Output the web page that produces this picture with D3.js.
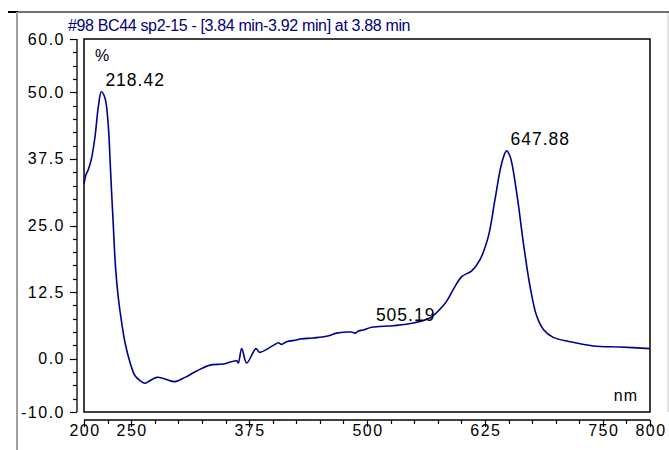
<!DOCTYPE html>
<html><head><meta charset="utf-8">
<script src="https://cdn.jsdelivr.net/npm/d3@7"></script>
<style>
body{margin:0;background:#fff;}
svg text{font-family:Arial,"Liberation Sans",sans-serif;}
</style></head>
<body><svg id="c" width="669" height="450"></svg>
<script>
const title = "#98 BC44 sp2-15 - [3.84 min-3.92 min] at 3.88 min";
const wavelength = [200,202,204.6,208.1,211.7,215.2,218.4,222.3,225.8,227.6,229.3,231.1,232.9,234.6,236.4,239.9,243.5,248.8,254.1,259.4,264.7,268.2,277.1,285.9,296.5,307.1,319.5,333.6,347.7,361.9,363.6,367.2,372.5,382.3,386.0,400.7,406.0,409.5,414.8,425.4,429.0,443.1,457.2,467.8,478.4,483.7,487.3,491.0,496.1,505.2,527.9,549.1,567.1,577.4,584.5,591.5,600.4,611.0,619.8,628.7,635.7,642.8,647.9,651.6,658.7,665.7,672.8,679.9,687.0,697.5,715.2,740.0,768.2,800];
const absorbance = [32.8,34.5,35.5,37.7,41.7,47.3,50.1,48.9,43.6,37.4,31.1,24.9,18.6,14.6,11.4,6.8,3.0,-0.7,-3.2,-4.1,-4.6,-4.3,-3.5,-3.8,-4.3,-3.5,-2.3,-1.2,-1.0,-0.4,-0.8,1.9,-0.8,1.9,1.2,2.5,3.0,2.7,3.2,3.5,3.7,3.9,4.2,4.8,5.0,5.0,4.8,5.2,5.4,5.9,6.2,6.7,7.7,9.3,10.8,13.0,15.4,16.5,18.6,23.0,29.9,36.7,39.0,38.0,31.1,21.8,13.6,8.0,5.5,4.0,3.2,2.4,2.2,1.9];
const xTickLabels = [200,250,375,500,625,750,800];
const yTickLabels = [60,50,37.5,25,12.5,0,-10];
const peakLabels = [{nm:218.42,v:50.1,text:"218.42"},{nm:505.19,v:5.9,text:"505.19"},{nm:647.88,v:39.0,text:"647.88"}];

const svg = d3.select("#c");
const L=84,R=650,T=39,B=412;
const x = d3.scaleLinear().domain([200,800]).range([L,R]);
const y = d3.scaleLinear().domain([-10,60]).range([B,T]);
const lineColor="#000090";

// outer frame
svg.append("line").attr("x1",17).attr("x2",669).attr("y1",12).attr("y2",12).attr("stroke","#707070").attr("stroke-width",2);
svg.append("line").attr("x1",8).attr("x2",18).attr("y1",12).attr("y2",12).attr("stroke","#000").attr("stroke-width",2);
svg.append("line").attr("x1",17).attr("x2",17).attr("y1",12).attr("y2",450).attr("stroke","#a0a0a0").attr("stroke-width",2);
svg.append("line").attr("x1",668).attr("x2",668).attr("y1",13).attr("y2",412).attr("stroke","#c8c8c8").attr("stroke-width",1);

// title
svg.append("text").attr("x",68).attr("y",31).attr("fill","#000080").attr("font-size",16).style("letter-spacing","-0.35px").text(title);

// plot frame
svg.append("rect").attr("x",L).attr("y",T).attr("width",R-L).attr("height",B-T).attr("fill","none").attr("stroke","#000").attr("stroke-width",1.5);

// y axis
const yAxisX=77;
const yg = svg.append("g");
yg.append("line").attr("x1",yAxisX).attr("x2",yAxisX).attr("y1",y(60)).attr("y2",y(-10)).attr("stroke","#000").attr("stroke-width",1.3);
const yMinor = d3.range(-10,60.001,2.5);
yg.selectAll(".ym").data(yMinor).enter().append("line")
  .attr("x1",d=>yTickLabels.includes(d)?yAxisX-7:yAxisX-4).attr("x2",yAxisX)
  .attr("y1",d=>Math.round(y(d))+0.5).attr("y2",d=>Math.round(y(d))+0.5).attr("stroke","#000").attr("stroke-width",1.2);
yg.selectAll(".yl").data(yTickLabels).enter().append("text")
  .attr("x",65).attr("y",d=>y(d)+5.5).attr("text-anchor","end").attr("font-size",16).style("letter-spacing","1.5px")
  .text(d=>d.toFixed(1));

// x axis
const xAxisY=420;
const xg = svg.append("g");
xg.append("line").attr("x1",x(200)).attr("x2",x(800)).attr("y1",xAxisY).attr("y2",xAxisY).attr("stroke","#000").attr("stroke-width",1.3);
const xMinor = d3.range(200,800.001,25);
xg.selectAll(".xm").data(xMinor).enter().append("line")
  .attr("x1",d=>Math.round(x(d))+0.5).attr("x2",d=>Math.round(x(d))+0.5)
  .attr("y1",xAxisY).attr("y2",d=>xTickLabels.includes(d)?xAxisY+7:xAxisY+4).attr("stroke","#000").attr("stroke-width",1.2);
xg.selectAll(".xl").data(xTickLabels).enter().append("text")
  .attr("x",d=>x(d)+1).attr("y",436).attr("text-anchor","middle").attr("font-size",16).style("letter-spacing","1.5px")
  .text(d=>d);

// unit labels
svg.append("text").attr("x",95).attr("y",61).attr("font-size",16).text("%");
svg.append("text").attr("x",638).attr("y",401).attr("text-anchor","end").attr("font-size",16).style("letter-spacing","1px").text("nm");

// line
const pts = wavelength.map((w,i)=>[w,absorbance[i]]);
svg.append("path").datum(pts)
  .attr("d",d3.line().x(d=>x(d[0])).y(d=>y(d[1])).curve(d3.curveCatmullRom.alpha(0.5)))
  .attr("fill","none").attr("stroke",lineColor).attr("stroke-width",1.6);

// peak labels
svg.selectAll(".pk").data(peakLabels).enter().append("text")
  .attr("x",d=>x(d.nm)+4).attr("y",d=>y(d.v)-6).attr("font-size",17.5).style("letter-spacing","1px")
  .text(d=>d.text);
</script></body></html>
